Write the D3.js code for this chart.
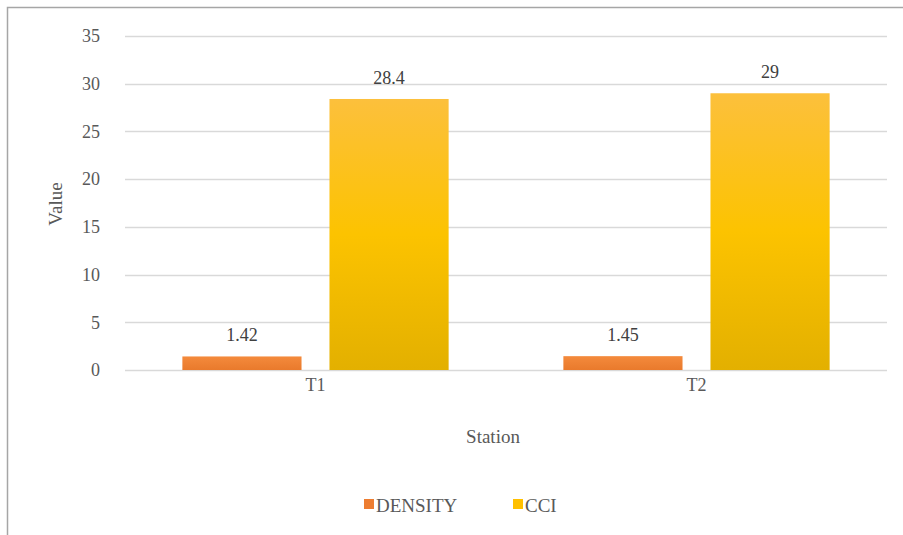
<!DOCTYPE html>
<html><head><meta charset="utf-8">
<script src="https://cdn.jsdelivr.net/npm/d3@7"></script>
</head><body style="margin:0">
<script>
const categories = ["T1", "T2"];
const seriesNames = ["DENSITY", "CCI"];
const densityValues = [1.42, 1.45];
const cciValues = [28.4, 29];
const yTicks = [0, 5, 10, 15, 20, 25, 30, 35];

const W = 903, H = 535;
const FONT = '"Liberation Serif"';
const svg = d3.select("body").append("svg").attr("width", W).attr("height", H).style("display","block");
const defs = svg.append("defs");
const g1 = defs.append("linearGradient").attr("id","gCCI").attr("x1",0).attr("y1",0).attr("x2",0).attr("y2",1);
g1.append("stop").attr("offset","0%").attr("stop-color","#fcc03c");
g1.append("stop").attr("offset","50%").attr("stop-color","#fcc300");
g1.append("stop").attr("offset","100%").attr("stop-color","#e3b000");
const g2 = defs.append("linearGradient").attr("id","gDen").attr("x1",0).attr("y1",0).attr("x2",0).attr("y2",1);
g2.append("stop").attr("offset","0%").attr("stop-color","#f48a3c");
g2.append("stop").attr("offset","100%").attr("stop-color","#e97a2c");

svg.append("rect").attr("x",7.5).attr("y",7.5).attr("width",W).attr("height",H)
  .attr("fill","#fff").attr("stroke","#a6a6a6").attr("stroke-width",1.5);

const pLeft = 125, pRight = 887, pTop = 36, pBottom = 370;
const y = d3.scaleLinear().domain([0, 35]).range([pBottom, pTop]);
const x0 = d3.scaleBand().domain(categories).range([pLeft, pRight]).paddingInner(0).paddingOuter(0);
const x1 = d3.scaleBand().domain(seriesNames).range([0, x0.bandwidth()]).paddingInner(0.19).paddingOuter(0.39);

const txt = "#595959";

svg.append("g").selectAll("line").data(yTicks).join("line")
  .attr("x1", pLeft).attr("x2", pRight)
  .attr("y1", d => Math.round(y(d)) + 0.5).attr("y2", d => Math.round(y(d)) + 0.5)
  .attr("stroke", "#d9d9d9").attr("stroke-width", 1.3);

const yAxis = d3.axisLeft(y).tickValues(yTicks).tickSize(0).tickPadding(0);
const ya = svg.append("g").attr("transform", `translate(${pLeft - 25},0)`).call(yAxis);
ya.select(".domain").remove();
ya.attr("font-family", null).attr("font-size", null).style("font-family", FONT);
ya.selectAll("text").style("font-family", FONT).attr("font-size", 18).attr("fill", txt);

const xAxis = d3.axisBottom(x0).tickSize(0).tickPadding(0);
const xa = svg.append("g").attr("transform", `translate(0,${pBottom + 8})`).call(xAxis);
xa.select(".domain").remove();
xa.attr("font-family", null).attr("font-size", null).style("font-family", FONT);
xa.selectAll("text").style("font-family", FONT).attr("font-size", 18).attr("fill", txt);

const data = categories.map((c, i) => ({cat: c, vals: [
  {s: "DENSITY", v: densityValues[i]}, {s: "CCI", v: cciValues[i]}]}));
const fills = {DENSITY: "url(#gDen)", CCI: "url(#gCCI)"};

const grp = svg.append("g").selectAll("g").data(data).join("g")
  .attr("transform", d => `translate(${x0(d.cat)},0)`);
grp.selectAll("rect").data(d => d.vals).join("rect")
  .attr("x", d => x1(d.s)).attr("width", x1.bandwidth())
  .attr("y", d => y(d.v)).attr("height", d => pBottom - y(d.v))
  .attr("fill", d => fills[d.s]);
grp.selectAll("text.lbl").data(d => d.vals).join("text").attr("class","lbl")
  .attr("x", d => x1(d.s) + x1.bandwidth() / 2).attr("y", d => y(d.v) - 15)
  .attr("text-anchor", "middle").style("font-family", FONT).attr("font-size", 18).attr("fill", "#404040")
  .text(d => String(d.v));

svg.append("text").attr("x", (pLeft + pRight) / 2 - 13).attr("y", 443).attr("text-anchor","middle")
  .style("font-family", FONT).attr("font-size", 19).attr("fill", txt).text("Station");
svg.append("text").attr("transform", `translate(62,${(pTop + pBottom) / 2 + 1}) rotate(-90)`).attr("text-anchor","middle")
  .style("font-family", FONT).attr("font-size", 19).attr("fill", txt).text("Value");

const legendColors = {DENSITY: "#ed7d31", CCI: "#ffc000"};
const legX = [364, 513];
const leg = svg.append("g");
seriesNames.forEach((s, i) => {
  leg.append("rect").attr("x", legX[i]).attr("y", 499).attr("width", 10).attr("height", 10).attr("fill", legendColors[s]);
  leg.append("text").attr("x", legX[i] + 12).attr("y", 512).style("font-family", FONT).attr("font-size", 19)
    .attr("fill", txt).text(s);
});
</script>
</body></html>
